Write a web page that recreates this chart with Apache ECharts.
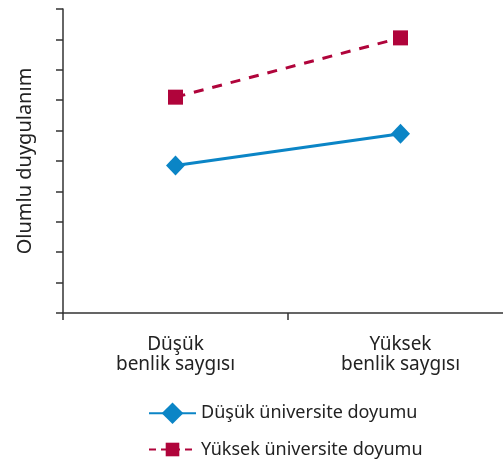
<!DOCTYPE html>
<html>
<head>
<meta charset="utf-8">
<script src="https://cdn.jsdelivr.net/npm/echarts@6/dist/echarts.min.js"></script>
<style>
  html, body { margin: 0; padding: 0; background: #fff; }
  #chart { width: 503px; height: 462px; }
</style>
</head>
<body>
<div id="chart"></div>
<script>
// kategoriler ve seriler
const categories = ['Düşük\nbenlik saygısı', 'Yüksek\nbenlik saygısı'];
const seriesNames = ['Düşük üniversite doyumu', 'Yüksek üniversite doyumu'];
const lowSatisfaction = [4.85, 5.9];
const highSatisfaction = [7.1, 9.05];
const yTicks = [0, 1, 2, 3, 4, 5, 6, 7, 8, 9, 10];

const font = 'Noto Sans';
const axisColor = '#333';
const blue = '#0b85c6';
const red = '#b0043b';

const chart = echarts.init(document.getElementById('chart'));

const legendText = { fontSize: 18, color: '#222', fontFamily: font };

const option = {
  animation: false,
  textStyle: { fontFamily: font },
  grid: { left: 63, right: -10, top: 9, bottom: 149, outerBoundsMode: 'none' },
  // iki ayrı legend: her birinin simge boyutu farklı
  legend: [
    {
      left: 148, top: 402.5, padding: 0,
      itemWidth: 47, itemHeight: 27,
      textStyle: legendText,
      data: [seriesNames[0]]
    },
    {
      left: 148, top: 440.5, padding: 0,
      itemWidth: 47, itemHeight: 17,
      textStyle: legendText,
      lineStyle: { type: [7, 5] },
      data: [seriesNames[1]]
    }
  ],
  xAxis: {
    type: 'category',
    data: categories,
    boundaryGap: true,
    axisLine: { lineStyle: { color: axisColor, width: 1.5 } },
    axisTick: { show: true, length: 7, lineStyle: { color: axisColor, width: 1.5 } },
    axisLabel: { fontSize: 19, color: '#222', lineHeight: 20, margin: 22, fontFamily: font }
  },
  yAxis: {
    type: 'value',
    min: yTicks[0],
    max: yTicks[yTicks.length - 1],
    interval: 1,
    name: 'Olumlu duygulanım',
    nameLocation: 'middle',
    nameGap: 28,
    nameRotate: 90,
    nameTextStyle: { fontSize: 20, color: '#222', fontFamily: font },
    axisLine: { show: true, lineStyle: { color: axisColor, width: 1.5 } },
    axisTick: { show: true, length: 7, lineStyle: { color: axisColor, width: 1.5 } },
    axisLabel: { show: false },
    splitLine: { show: false }
  },
  series: [
    {
      name: seriesNames[0],
      type: 'line',
      data: lowSatisfaction,
      symbol: 'diamond',
      symbolSize: [19, 20],
      color: blue,
      lineStyle: { width: 3, color: blue },
      itemStyle: { color: blue }
    },
    {
      name: seriesNames[1],
      type: 'line',
      data: highSatisfaction,
      symbol: 'rect',
      symbolSize: 15,
      color: red,
      lineStyle: { width: 3, type: [10, 9], color: red },
      itemStyle: { color: red }
    }
  ]
};

chart.setOption(option);
</script>
</body>
</html>
